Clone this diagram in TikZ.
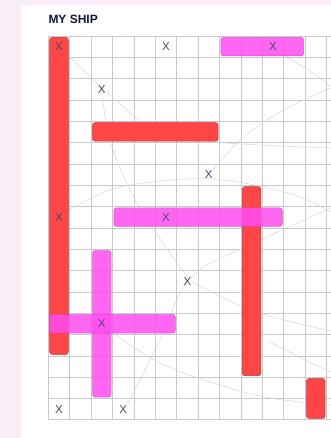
\documentclass[tikz,border=0pt]{standalone}
\usepackage{fontspec}
\setmainfont{Liberation Sans}
\usetikzlibrary{backgrounds}
\definecolor{bgpink}{HTML}{F9EEF7}
\definecolor{gridgray}{HTML}{C8C8C8}
\definecolor{arcgray}{HTML}{D6D6D6}
\definecolor{shipred}{HTML}{FF4646}
\definecolor{shipredline}{HTML}{B83434}
\definecolor{shipmag}{HTML}{FF4DF2}
\definecolor{shipmagline}{HTML}{C44CC0}
\definecolor{titlecol}{HTML}{16163A}
\definecolor{xcol}{HTML}{4A4A68}
\tikzset{
  cellsys/.style={shift={(48.3pt,-36pt)},x=21.4pt,y=-21.32pt},
  gridline/.style={draw=gridgray,line width=0.6pt},
  arcline/.style={draw=arcgray,line width=0.5pt},
  redship/.style={fill=shipred,draw=shipredline,line width=0.5pt,rounded corners=2.5pt},
  magship/.style={fill=shipmag,fill opacity=0.85,draw=shipmagline,draw opacity=0.8,line width=0.5pt,rounded corners=2.5pt},
  shot/.style={text=xcol,font=\fontsize{11.5}{13}\selectfont,inner sep=0pt},
  titletext/.style={text=titlecol,font=\fontsize{12}{14}\bfseries\selectfont,inner sep=0pt,anchor=base west}
}
\newcommand\shipbox[5]{\draw[#1] ([xshift=1.4pt,yshift=-1.4pt]#2,#3) rectangle ([xshift=-1.4pt,yshift=1.4pt]#2+#4,#3+#5);}
\begin{document}
\begin{tikzpicture}[x=1pt,y=-1pt]
\useasboundingbox (0,0) rectangle (331,438);
\node[titletext] (title) at (48.3,24) {MY SHIP};
\begin{scope}[cellsys]
  % red ships
  \shipbox{redship}{0}{0}{1}{15}
  \shipbox{redship}{2}{4}{6}{1}
  \shipbox{redship}{9}{7}{1}{9}
  \shipbox{redship}{12}{16}{1}{2}
  % magenta ships
  \shipbox{magship}{8}{0}{4}{1}
  \shipbox{magship}{3}{8}{8}{1}
  \shipbox{magship}{2}{10}{1}{7}
  \shipbox{magship}{0}{13}{6}{1}
  % shots
  \node[shot] (s1) at (0.5,0.5) {X};
  \node[shot] (s2) at (5.5,0.5) {X};
  \node[shot] (s3) at (10.5,0.5) {X};
  \node[shot] (s4) at (2.5,2.5) {X};
  \node[shot] (s5) at (7.5,6.5) {X};
  \node[shot] (s6) at (0.5,8.5) {X};
  \node[shot] (s7) at (5.5,8.5) {X};
  \node[shot] (s8) at (6.5,11.5) {X};
  \node[shot] (s9) at (2.5,13.5) {X};
  \node[shot] (s10) at (0.5,17.5) {X};
  \node[shot] (s11) at (3.5,17.5) {X};
\end{scope}
\begin{pgfonlayer}{background}
  \fill[bgpink] (0,0) rectangle (331,438);
  \fill[white] (21,5) rectangle (331,438);
  \begin{scope}[cellsys]
    \foreach \i in {0,...,13} \draw[gridline] (\i,0) -- (\i,18);
    \foreach \j in {0,...,18} \draw[gridline] (0,\j) -- (13.3,\j);
  \end{scope}
  % faint trajectory curves
  \draw[arcline] plot[smooth,tension=0.6] coordinates {(s1.south east) (110,95) (150,126) (200,140) (260,145) (331,148)};
  \draw[arcline] plot[smooth,tension=0.6] coordinates {(s4.south) (110,140) (130,190) (158,236) (s8.north)};
  \draw[arcline] plot[smooth,tension=0.6] coordinates {(s5.north east) (240,140) (280,112) (331,88)};
  \draw[arcline] plot[smooth,tension=0.6] coordinates {(s3.south east) (305,68) (331,86)};
  \draw[arcline] plot[smooth,tension=0.6] coordinates {(s6.north east) (110,190) (160,181) (210,179) (260,186) (300,197) (331,212)};
  \draw[arcline] plot[smooth,tension=0.6] coordinates {(s11.north east) (160,340) (s8.north east) (250,245) (331,208)};
  \draw[arcline] plot[smooth,tension=0.6] coordinates {(s9.south east) (160,363) (220,385) (270,398) (331,405)};
  \draw[arcline] plot[smooth,tension=0.6] coordinates {(s8.east) (253,311) (331,331)};
  \draw[arcline] plot[smooth,tension=0.6] coordinates {(270,342) (305,360) (331,372)};
\end{pgfonlayer}
\end{tikzpicture}
\end{document}
